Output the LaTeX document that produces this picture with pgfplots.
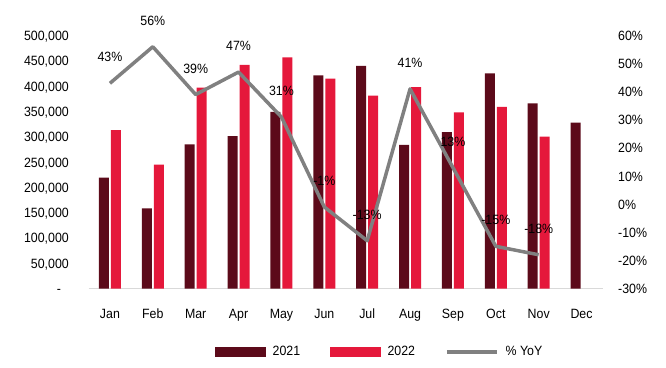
\documentclass[border=0pt]{standalone}
\usepackage{fontspec}
\setmainfont{Liberation Sans}[FakeStretch=0.92]
\usepackage{pgfplots}
\pgfplotsset{compat=1.18}
\definecolor{c21}{HTML}{5C0A1A}
\definecolor{c22}{HTML}{E5183B}
\definecolor{cyoy}{HTML}{808080}
\definecolor{cax}{HTML}{D9D9D9}
\begin{document}
\begin{tikzpicture}[font=\fontsize{13.5}{16}\selectfont]
\path[use as bounding box] (-88.5bp,-79.5bp) rectangle (577.5bp,288.5bp);
\begin{axis}[
  scale only axis, width=514.5bp, height=253bp,
  at={(0,0)}, anchor=south west,
  xmin=-0.5, xmax=11.5, ymin=0, ymax=500000,
  scaled y ticks=false,
  axis x line*=bottom, axis y line*=left,
  x axis line style={draw=cax, line width=1.5bp},
  y axis line style={draw=none},
  major tick length=0pt,
  xtick={0,...,11},
  xticklabels={Jan,Feb,Mar,Apr,May,Jun,Jul,Aug,Sep,Oct,Nov,Dec},
  xticklabel style={anchor=base, yshift=-29.5bp, inner sep=0pt},
  ytick={0,50000,100000,150000,200000,250000,300000,350000,400000,450000,500000},
  yticklabels={{-\hspace*{7.7bp}},{50,000},{100,000},{150,000},{200,000},{250,000},{300,000},{350,000},{400,000},{450,000},{500,000}},
  yticklabel style={anchor=base east, inner sep=0pt, xshift=-19.5bp, yshift=-5bp},
  clip=false,
]
\addplot[ybar, bar width=10bp, bar shift=-6bp, fill=c21, draw=none] coordinates {
 (0,219000) (1,158500) (2,285000) (3,301000) (4,349000) (5,421000)
 (6,440000) (7,284000) (8,309000) (9,425000) (10,366000) (11,328000)};
\addplot[ybar, bar width=10bp, bar shift=6bp, fill=c22, draw=none] coordinates {
 (0,313000) (1,245000) (2,397000) (3,442000) (4,457000) (5,415000)
 (6,381000) (7,398000) (8,348000) (9,359000) (10,300000)};
\end{axis}
\begin{axis}[
  scale only axis, width=514.5bp, height=253bp,
  at={(0,0)}, anchor=south west,
  xmin=-0.5, xmax=11.5, ymin=-30, ymax=60,
  axis x line=none, axis y line*=right,
  y axis line style={draw=none},
  major tick length=0pt,
  ytick={-30,-20,-10,0,10,20,30,40,50,60},
  yticklabels={-30\%,-20\%,-10\%,0\%,10\%,20\%,30\%,40\%,50\%,60\%},
  yticklabel style={anchor=base west, inner sep=0pt, xshift=15bp, yshift=-5bp},
  clip=false,
  legend columns=3,
  legend cell align=left,
  legend style={at={(0.246,-0.251)}, anchor=west, draw=none, fill=none, inner sep=0pt,
    /tikz/every odd column/.append style={column sep=5bp},
    /tikz/every even column/.append style={column sep=28bp}},
]
\addlegendimage{legend image code/.code={\fill[c21] (0bp,-4.5bp) rectangle (50bp,4.5bp);}}
\addlegendentry{2021}
\addlegendimage{legend image code/.code={\fill[c22] (0bp,-4.5bp) rectangle (50bp,4.5bp);}}
\addlegendentry{2022}
\addplot[cyoy, line width=3.5bp, line join=round,
  legend image code/.code={\draw[cyoy, line width=3.5bp] (0bp,0bp) -- (50bp,0bp);},
  point meta=explicit symbolic,
  nodes near coords={\pgfplotspointmeta\%},
  every node near coord/.style={anchor=center, yshift=26bp, text=black, inner sep=0pt}]
 coordinates {
 (0,43) [43] (1,56) [56] (2,39) [39] (3,47) [47] (4,31) [31] (5,-1) [-1]
 (6,-13) [-13] (7,41) [41] (8,13) [13] (9,-15) [-15] (10,-18) [-18]};
\addlegendentry{\% YoY}
\end{axis}
\end{tikzpicture}
\end{document}
